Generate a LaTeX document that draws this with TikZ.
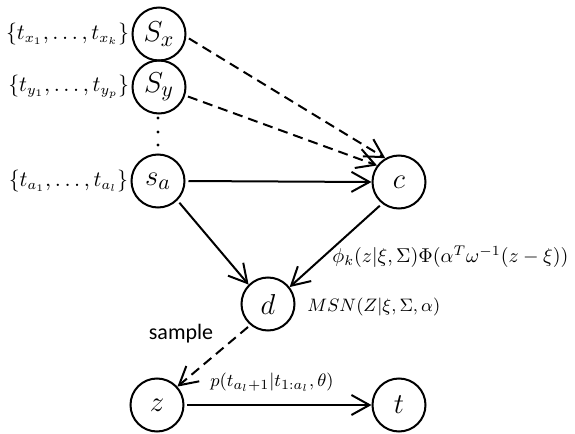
\documentclass[tikz,border=0pt]{standalone}
\usepackage{fontspec}
\newfontfamily\labelsans{Carlito}
\usetikzlibrary{arrows.meta}
\begin{document}
\begin{tikzpicture}[x=0.5pt,y=-0.5pt,
  var/.style={circle,draw,line width=1pt,minimum size=26.5pt,inner sep=0pt,font=\fontsize{15}{17}\selectfont},
  lbl/.style={font=\fontsize{10}{12}\selectfont,inner sep=1pt},
  arr/.style={line width=1pt,shorten <=1.5pt,-{Straight Barb[length=9pt,width=10pt,line width=1pt]}},
  darr/.style={arr,dash pattern=on 5pt off 3pt},
  dot/.style={circle,fill,inner sep=0pt,minimum size=1.6pt}]
\useasboundingbox (0,0) rectangle (575,434);
\node[var] (sx) at (159,34) {$S_x$};
\node[var] (sy) at (159,87) {$S_y$};
\node[var] (sa) at (158,181) {$s_a$};
\node[var] (c) at (399,182) {$c$};
\node[var] (d) at (268,304) {$d$};
\node[var] (z) at (157,405) {$z$};
\node[var] (t) at (399,405) {$t$};
\node[dot] (p1) at (158,118) {};
\node[dot] (p2) at (158,132) {};
\node[dot] (p3) at (158,145) {};
\node[lbl,anchor=east,font=\fontsize{10.5}{12}\selectfont] (lx) at (sx.west) {$\{t_{x_1},\ldots,t_{x_k}\}$};
\node[lbl,anchor=east,font=\fontsize{10.5}{12}\selectfont] (ly) at (sy.west) {$\{t_{y_1},\ldots,t_{y_p}\}$};
\node[lbl,anchor=east,font=\fontsize{10.5}{12}\selectfont] (la) at (sa.west) {$\{t_{a_1},\ldots,t_{a_l}\}$};
\draw[darr] (sx.-6) -- (c.120);
\draw[darr] (sy.-18) -- (c.143);
\draw[arr] (sa.east) -- (c.west);
\draw[arr] (sa.-45) -- (d.135);
\draw[arr] (c.-128) -- (d.38);
\draw[darr] (d.-130) -- (z.42);
\draw[arr] (z.east) -- (t.west);
\node[lbl,anchor=west,font=\fontsize{9.8}{12}\selectfont] (lphi) at (330,257) {$\phi_k(z|\xi,\Sigma)\Phi(\alpha^T\omega^{-1}(z-\xi))$};
\node[lbl,anchor=west,font=\fontsize{9.5}{12}\selectfont] (lmsn) at (305,307) {$MSN(Z|\xi,\Sigma,\alpha)$};
\node[lbl,font=\labelsans\fontsize{11}{13}\selectfont] (ls) at (181,334) {sample};
\node[lbl,anchor=west,font=\fontsize{9.5}{12}\selectfont] (lp) at (208,382) {$p(t_{a_l+1}|t_{1:a_l},\theta)$};
\end{tikzpicture}
\end{document}
